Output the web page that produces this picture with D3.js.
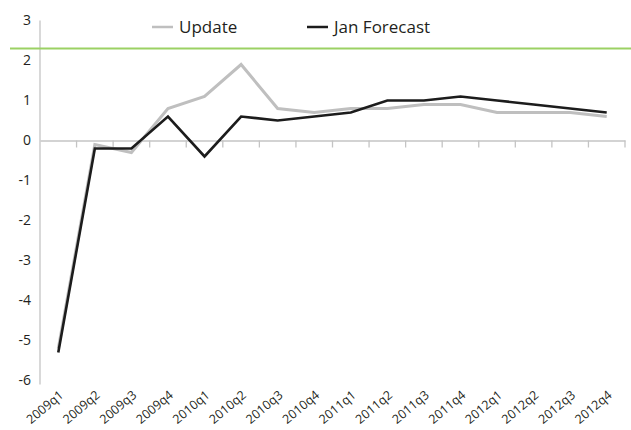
<!DOCTYPE html>
<html>
<head>
<meta charset="utf-8">
<script src="https://cdn.jsdelivr.net/npm/d3@7/dist/d3.min.js"></script>
<style>
  html, body { margin: 0; padding: 0; background: #fff; }
  svg { display: block; font-family: "Open Sans", "Noto Sans", sans-serif; }
</style>
</head>
<body>
<svg id="chart" width="631" height="430"></svg>
<script>
// Quarterly growth: updated estimate vs. January forecast
const quarters = ["2009q1","2009q2","2009q3","2009q4","2010q1","2010q2","2010q3","2010q4",
                  "2011q1","2011q2","2011q3","2011q4","2012q1","2012q2","2012q3","2012q4"];
const updateValues = [-5.2, -0.1, -0.3, 0.8, 1.1, 1.9, 0.8, 0.7, 0.8, 0.8, 0.9, 0.9, 0.7, 0.7, 0.7, 0.6];
const janForecast  = [-5.3, -0.2, -0.2, 0.6, -0.4, 0.6, 0.5, 0.6, 0.7, 1.0, 1.0, 1.1, 1.0, 0.9, 0.8, 0.7];
const yTicks = [-6, -5, -4, -3, -2, -1, 0, 1, 2, 3];
const referenceLevel = 2.3;

const svg = d3.select("#chart");
const plotLeft = 40, plotRight = 625, plotTop = 20.5, plotBottom = 380.5;

const x = d3.scaleBand().domain(quarters).range([plotLeft, plotRight]);
const y = d3.scaleLinear().domain([-6, 3]).range([plotBottom, plotTop]);

const axisColor = "#c4c4c4";
const textColor = "#231f20";

// Vertical axis line with labels only
svg.append("line")
  .attr("x1", plotLeft).attr("x2", plotLeft)
  .attr("y1", y(3)).attr("y2", y(-6) + 4)
  .attr("stroke", axisColor).attr("stroke-width", 1.3);

svg.append("g").selectAll("text").data(yTicks).join("text")
  .attr("x", 31).attr("y", d => y(d))
  .attr("dy", "0.35em")
  .attr("text-anchor", "end")
  .attr("font-size", 14)
  .attr("fill", textColor)
  .text(d => d);

// Horizontal category axis at zero, ticks on band boundaries
const xAxis = d3.axisBottom(x).tickSize(0).tickFormat("");
const gx = svg.append("g").attr("transform", `translate(0,${y(0)})`).call(xAxis);
gx.select(".domain").attr("stroke", axisColor).attr("stroke-width", 1.3);
svg.append("g").selectAll("line")
  .data(quarters.map(q => x(q) + x.bandwidth()))
  .join("line")
  .attr("x1", d => d).attr("x2", d => d)
  .attr("y1", y(0)).attr("y2", y(0) + 7)
  .attr("stroke", axisColor).attr("stroke-width", 1.3);

// Rotated category labels along the bottom
svg.append("g").selectAll("text").data(quarters).join("text")
  .attr("transform", d => `translate(${x(d) + x.bandwidth() / 2 + 6},${y(-6) + 16}) rotate(-40)`)
  .attr("text-anchor", "end")
  .attr("font-size", 12.5)
  .attr("fill", textColor)
  .text(d => d);

// Reference level line
svg.append("line")
  .attr("x1", 10).attr("x2", 631)
  .attr("y1", y(referenceLevel)).attr("y2", y(referenceLevel))
  .attr("stroke", "#9bd164").attr("stroke-width", 2);

// Series lines
const line = d3.line()
  .x((d, i) => x(quarters[i]) + x.bandwidth() / 2)
  .y(d => y(d));

svg.append("path").datum(updateValues)
  .attr("d", line).attr("fill", "none")
  .attr("stroke", "#bfbfbf").attr("stroke-width", 3)
  .attr("stroke-linejoin", "miter");

svg.append("path").datum(janForecast)
  .attr("d", line).attr("fill", "none")
  .attr("stroke", "#1c1c1c").attr("stroke-width", 2.6)
  .attr("stroke-linejoin", "miter");

// Legend
const legend = [
  { label: "Update", color: "#bfbfbf", x: 152 },
  { label: "Jan Forecast", color: "#1c1c1c", x: 307 }
];
const lg = svg.append("g").selectAll("g").data(legend).join("g")
  .attr("transform", d => `translate(${d.x},27)`);
lg.append("line")
  .attr("x1", 0).attr("x2", 21)
  .attr("stroke", d => d.color).attr("stroke-width", 2.5);
lg.append("text")
  .attr("x", 27).attr("dy", "0.35em")
  .attr("font-size", 17)
  .attr("fill", textColor)
  .text(d => d.label);
</script>
</body>
</html>
